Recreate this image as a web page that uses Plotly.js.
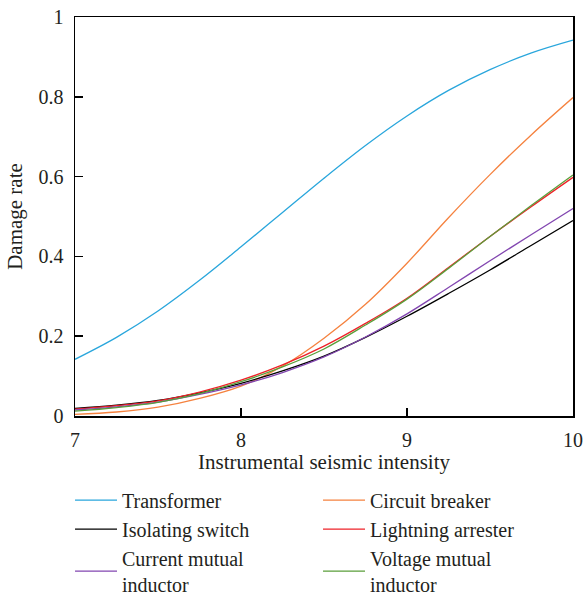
<!DOCTYPE html>
<html>
<head>
<meta charset="utf-8">
<script src="https://cdn.plot.ly/plotly-3.0.1.min.js"></script>
<style>html,body{margin:0;padding:0;background:#fff;}#chart{width:586px;height:597px;}</style>
</head>
<body>
<div id="chart"></div>
<script>
const intensity = [7, 7.25, 7.5, 7.75, 8, 8.25, 8.5, 8.75, 9, 9.25, 9.5, 9.75, 10];
const transformer = [0.142, 0.197, 0.263, 0.340, 0.424, 0.510, 0.596, 0.678, 0.752, 0.816, 0.868, 0.910, 0.942];
const circuitBreaker = [0.004, 0.010, 0.022, 0.044, 0.075, 0.125, 0.195, 0.280, 0.383, 0.497, 0.605, 0.705, 0.798];
const isolatingSwitch = [0.019, 0.027, 0.039, 0.058, 0.082, 0.113, 0.150, 0.197, 0.250, 0.307, 0.366, 0.428, 0.490];
const lightningArrester = [0.017, 0.026, 0.038, 0.060, 0.090, 0.128, 0.175, 0.232, 0.295, 0.372, 0.450, 0.525, 0.598];
const currentInductor = [0.015, 0.023, 0.035, 0.054, 0.078, 0.109, 0.148, 0.198, 0.256, 0.322, 0.389, 0.455, 0.520];
const voltageInductor = [0.012, 0.021, 0.034, 0.056, 0.086, 0.123, 0.168, 0.228, 0.293, 0.370, 0.450, 0.528, 0.604];
const names = ['Transformer', 'Circuit breaker', 'Isolating switch', 'Lightning arrester', 'Current mutual<br>inductor', 'Voltage mutual<br>inductor'];
const series = [transformer, circuitBreaker, isolatingSwitch, lightningArrester, currentInductor, voltageInductor];
const colors = ['#29a6dc', '#f5823f', '#000000', '#ee2228', '#8246b0', '#5a9e3a'];

const FONT = 'Liberation Serif, Times New Roman, serif';
const traces = series.map((s, i) => ({
  x: intensity, y: s, name: names[i], type: 'scatter', mode: 'lines',
  line: {color: colors[i], width: 1.3, shape: 'spline', smoothing: 1}
}));

const layout = {
  width: 586, height: 597,
  margin: {l: 75, r: 13, t: 17, b: 181},
  paper_bgcolor: '#fff', plot_bgcolor: '#fff',
  font: {family: FONT, size: 20, color: '#231f20'},
  showlegend: true,
  legend: {orientation: 'h', xref: 'container', x: 0.1195, xanchor: 'left', yref: 'container', y: 0.195, yanchor: 'top',
           entrywidth: 191, traceorder: 'normal', font: {family: FONT, size: 20, color: '#231f20'},
           itemwidth: 42, tracegroupgap: 0},
  xaxis: {range: [7, 10], tickvals: [7, 8, 9, 10], ticks: 'inside', ticklen: 8, tickwidth: 1.5,
          tickcolor: '#000', showline: true, linecolor: '#000', linewidth: 1.5, mirror: true,
          showgrid: false, zeroline: false, ticklabelstandoff: 5, automargin: false,
          title: {text: 'Instrumental seismic intensity', font: {family: FONT, size: 21}, standoff: 5}},
  yaxis: {range: [0, 1], tickvals: [0, 0.2, 0.4, 0.6, 0.8, 1], ticktext: ['0', '0.2', '0.4', '0.6', '0.8', '1'],
          ticks: 'inside', ticklen: 8, tickwidth: 1.5, tickcolor: '#000', showline: true,
          linecolor: '#000', linewidth: 1.5, mirror: true, showgrid: false, zeroline: false,
          ticklabelstandoff: 6, automargin: false,
          title: {text: 'Damage rate', font: {family: FONT, size: 21}, standoff: 10}}
};
Plotly.newPlot('chart', traces, layout, {displayModeBar: false, staticPlot: true});
</script>
</body>
</html>
